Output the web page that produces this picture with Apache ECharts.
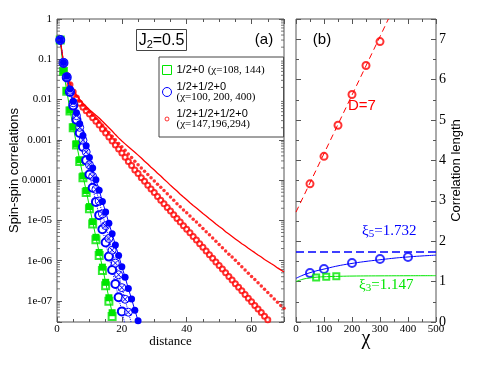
<!DOCTYPE html>
<html><head><meta charset="utf-8">
<script src="https://cdn.jsdelivr.net/npm/echarts@6/dist/echarts.min.js"></script>
<style>html,body{margin:0;padding:0;background:#fff}#c{width:491px;height:379px}</style>
</head><body><div id="c"></div>
<script>
// ---------- panel (a): correlations vs distance ----------
const distance = [1,2,3,4,5,6,7,8,9,10,11,12,13,14,15,16,17,18,19,20,21,22,23,24,25,26,27,28,29,30,
  31,32,33,34,35,36,37,38,39,40,41,42,43,44,45,46,47,48,49,50,51,52,53,54,55,56,57,58,59,60,
  61,62,63,64,65,66,67,68,69,70];
const greenChi108 = [3.0e-1,5.0e-2,1.60e-2,5.2e-3,2.0e-3,7.4e-4,2.9e-4,1.15e-4,4.9e-5,1.95e-5,8.1e-6,3.3e-6,1.35e-6,5.7e-7,2.4e-7,9.8e-8,4.1e-8];
const greenChi144 = [3.0e-1,5.1e-2,1.66e-2,5.5e-3,2.1e-3,7.9e-4,3.2e-4,1.27e-4,5.5e-5,2.2e-5,9.3e-6,3.8e-6,1.6e-6,6.9e-7,2.9e-7,1.2e-7,5.1e-8];
const blueChi100 = [3.02e-1,8.13e-2,3.55e-2,1.55e-2,7.08e-3,3.16e-3,1.48e-3,6.61e-4,3.09e-4,1.38e-4,6.46e-5,2.88e-5,1.35e-5,6.03e-6,2.82e-6,1.26e-6,5.89e-7,2.63e-7,1.23e-7,5.50e-8,2.57e-8];
const blueChi200 = [3.02e-1,8.32e-2,3.72e-2,1.70e-2,8.32e-3,3.98e-3,2.04e-3,9.77e-4,5.01e-4,2.40e-4,1.23e-4,5.89e-5,3.02e-5,1.45e-5,7.41e-6,3.55e-6,1.82e-6,8.71e-7,4.47e-7,2.14e-7,1.10e-7,5.25e-8,2.69e-8];
const blueChi400 = [3.02e-1,8.32e-2,3.80e-2,1.82e-2,9.12e-3,4.68e-3,2.51e-3,1.29e-3,7.08e-4,3.63e-4,2.00e-4,1.02e-4,5.62e-5,2.95e-5,1.62e-5,8.51e-6,4.68e-6,2.45e-6,1.35e-6,7.08e-7,3.89e-7,2.04e-7,1.12e-7,5.89e-8,3.24e-8];
const redChi147 = [3.02e-1,8.32e-2,3.98e-2,2.34e-2,1.55e-2,1.10e-2,8.13e-3,6.46e-3,5.25e-3,4.37e-3,
  3.55e-3,2.88e-3,2.34e-3,1.86e-3,1.48e-3,1.17e-3,9.33e-4,7.41e-4,5.89e-4,4.68e-4,
  3.72e-4,2.88e-4,2.29e-4,1.78e-4,1.45e-4,1.15e-4,9.33e-5,7.41e-5,6.03e-5,4.90e-5,
  3.89e-5,3.16e-5,2.57e-5,2.09e-5,1.70e-5,1.38e-5,1.12e-5,9.12e-6,7.41e-6,6.03e-6,
  4.90e-6,3.98e-6,3.24e-6,2.63e-6,2.14e-6,1.74e-6,1.41e-6,1.15e-6,9.33e-7,7.59e-7,
  6.17e-7,5.01e-7,4.07e-7,3.31e-7,2.69e-7,2.19e-7,1.78e-7,1.45e-7,1.17e-7,9.55e-8,
  7.76e-8,6.31e-8,5.13e-8,4.17e-8,3.39e-8];
const redChi196 = [3.02e-1,8.51e-2,4.07e-2,2.45e-2,1.66e-2,1.20e-2,9.12e-3,7.24e-3,5.89e-3,4.90e-3,
  4.07e-3,3.39e-3,2.82e-3,2.29e-3,1.86e-3,1.51e-3,1.23e-3,1.00e-3,8.13e-4,6.76e-4,
  5.50e-4,4.47e-4,3.63e-4,2.95e-4,2.40e-4,2.00e-4,1.66e-4,1.38e-4,1.15e-4,9.55e-5,
  7.94e-5,6.61e-5,5.50e-5,4.57e-5,3.80e-5,3.16e-5,2.57e-5,2.19e-5,1.82e-5,1.55e-5,
  1.29e-5,1.07e-5,9.12e-6,7.59e-6,6.31e-6,5.25e-6,4.37e-6,3.63e-6,3.02e-6,2.51e-6,
  2.09e-6,1.74e-6,1.45e-6,1.23e-6,1.02e-6,8.51e-7,7.08e-7,5.89e-7,4.90e-7,4.07e-7,
  3.39e-7,2.82e-7,2.34e-7,1.95e-7,1.62e-7,1.35e-7,1.12e-7,9.33e-8,7.76e-8,6.61e-8];
const redChi294 = [3.02e-1,8.51e-2,4.17e-2,2.51e-2,1.74e-2,1.29e-2,1.00e-2,8.13e-3,6.76e-3,5.62e-3,
  4.79e-3,4.07e-3,3.47e-3,2.88e-3,2.40e-3,2.00e-3,1.66e-3,1.35e-3,1.12e-3,9.33e-4,
  7.94e-4,6.76e-4,5.75e-4,4.90e-4,4.17e-4,3.55e-4,2.95e-4,2.51e-4,2.09e-4,1.78e-4,
  1.48e-4,1.26e-4,1.05e-4,8.91e-5,7.41e-5,6.31e-5,5.37e-5,4.47e-5,3.80e-5,3.24e-5,
  2.75e-5,2.34e-5,2.04e-5,1.74e-5,1.48e-5,1.29e-5,1.10e-5,9.55e-6,8.13e-6,7.08e-6,
  6.17e-6,5.25e-6,4.57e-6,3.98e-6,3.47e-6,3.02e-6,2.63e-6,2.34e-6,2.04e-6,1.78e-6,
  1.58e-6,1.38e-6,1.23e-6,1.07e-6,9.55e-7,8.51e-7,7.59e-7,6.61e-7,5.89e-7,5.25e-7];
const logTickLabels = {'0':'1','-1':'0.1','-2':'0.01','-3':'0.001','-4':'0.0001','-5':'1e-05','-6':'1e-06','-7':'1e-07'};
const logMinorMult = [2,3,4,5,6,7,8,9];
const logDecades = [1e-8,1e-7,1e-6,1e-5,1e-4,1e-3,1e-2,1e-1];
const distRange = [0,70];

// ---------- panel (b): correlation length vs chi ----------
const chiRed = [50,100,150,200,250,300];
const xiRed = [3.42,4.10,4.87,5.63,6.35,6.94];
const chiRedFit = [0,330];
const xiRedFit = [2.72,7.5];
const chiBlue = [50,100,200,300,400];
const xiBlue = [1.21,1.31,1.46,1.56,1.61];
const chiBlueFit = [0,25,50,75,100,150,200,250,300,350,400,450,500];
const xiBlueFit = [1.08,1.16,1.22,1.27,1.31,1.39,1.45,1.50,1.54,1.58,1.61,1.635,1.655];
const chiGreen = [72,108,144];
const xiGreen = [1.10,1.12,1.13];
const chiGreenFit = [0,25,50,75,100,150,200,300,400,500];
const xiGreenFit = [1.0,1.06,1.09,1.11,1.12,1.13,1.137,1.142,1.145,1.147];
const xi5 = 1.732, xi3 = 1.147;
const chiRange = [0,500];

const RED='#ff0000', GREEN='#00e600', BLUE='#0000ff', AX='#555';
const SERIF='Liberation Serif', SANS='Liberation Sans';
const pair = (xs, ys) => ys.map((v,i)=>[xs[i], v]);

function ax(o) {
  return Object.assign({
    type:'value', axisLine:{show:false,onZero:false}, splitLine:{show:false},
    axisLabel:{show:false}, nameMoveOverlap:false,
    axisTick:{show:true,inside:true,length:o.len||5,lineStyle:{color:AX,width:1}}
  }, o);
}
const lblA = {show:true,fontFamily:SERIF,fontSize:11,color:'#000',margin:2};

const chart = echarts.init(document.getElementById('c'), null, {renderer:'canvas'});
const crossCircle = 'path://M0,5A5,5 0 1,1 10,5A5,5 0 1,1 0,5Z M1.6,1.6L8.4,8.4M8.4,1.6L1.6,8.4';
const smallCircleIcon = 'path://M0,0M10,10M2.8,5A2.2,2.2 0 1,1 7.2,5A2.2,2.2 0 1,1 2.8,5Z';
const minorVals = logDecades.flatMap(d=>logMinorMult.map(m=>m*d)).filter(v=>v>3e-8);

const option = {
  animation:false,
  backgroundColor:'#fff',
  grid:[
    {left:57,top:19,width:227,height:303,show:true,borderColor:AX,borderWidth:1,backgroundColor:'transparent',outerBoundsMode:'none',containLabel:false},
    {left:296,top:19,width:140,height:303,show:true,borderColor:AX,borderWidth:1,backgroundColor:'transparent',outerBoundsMode:'none',containLabel:false}
  ],
  xAxis:[
    ax({gridIndex:0,position:'bottom',min:0,max:70,interval:20,len:5,
      axisLabel:Object.assign({},lblA,{formatter:v=>(v%20===0?String(v):'')}),
      name:'distance',nameLocation:'middle',nameGap:13,
      nameTextStyle:{fontFamily:SERIF,fontSize:13,color:'#000'}}),
    ax({gridIndex:0,position:'bottom',min:0,max:70,interval:5,len:3}),
    ax({gridIndex:0,position:'top',min:0,max:70,interval:20,len:5}),
    ax({gridIndex:0,position:'top',min:0,max:70,interval:5,len:3}),
    ax({gridIndex:1,position:'bottom',min:0,max:500,interval:100,len:5,
      axisLabel:Object.assign({},lblA),
      name:'χ',nameLocation:'middle',nameGap:7,
      nameTextStyle:{fontFamily:SERIF,fontSize:20,color:'#000'}}),
    ax({gridIndex:1,position:'bottom',min:0,max:500,interval:50,len:3}),
    ax({gridIndex:1,position:'top',min:0,max:500,interval:100,len:5}),
    ax({gridIndex:1,position:'top',min:0,max:500,interval:50,len:3})
  ],
  yAxis:[
    ax({gridIndex:0,type:'log',position:'left',min:3e-8,max:1,len:5,
      axisLabel:{show:true,fontFamily:SERIF,fontSize:11,color:'#000',margin:5,
        formatter:v=>{const l=Math.log10(v);const r=Math.round(l);return Math.abs(l-r)<0.01&&logTickLabels[String(r)]?logTickLabels[String(r)]:'';}},
      name:'Spin-spin correlations',nameLocation:'middle',nameGap:36,nameRotate:90,
      nameTextStyle:{fontFamily:SANS,fontSize:13,color:'#000'}}),
    ax({gridIndex:0,type:'log',position:'right',min:3e-8,max:1,len:5}),
    ax({gridIndex:1,position:'right',min:0,max:7.5,interval:1,len:5,
      axisLabel:{show:true,fontFamily:SERIF,fontSize:14,color:'#000',margin:3,
        formatter:v=>(Number.isInteger(v)?String(v):'')},
      name:'Correlation length',nameLocation:'middle',nameGap:14,nameRotate:90,
      nameTextStyle:{fontFamily:SANS,fontSize:13,color:'#000'}}),
    ax({gridIndex:1,position:'right',min:0,max:7.5,interval:0.5,len:3}),
    ax({gridIndex:1,position:'left',min:0,max:7.5,interval:1,len:5}),
    ax({gridIndex:1,position:'left',min:0,max:7.5,interval:0.5,len:3})
  ],
  legend:{
    left:159,top:57,orient:'vertical',selectedMode:false,
    backgroundColor:'#fff',borderColor:'#444',borderWidth:1,
    padding:[7,19,7,3],itemGap:5,itemWidth:9,itemHeight:9,
    data:[
      {name:'G',icon:'rect',itemStyle:{color:'#fff',borderColor:GREEN,borderWidth:1}},
      {name:'B',icon:'circle',itemStyle:{color:'#fff',borderColor:BLUE,borderWidth:1}},
      {name:'R',icon:smallCircleIcon,itemStyle:{color:'rgba(0,0,0,0)',borderColor:RED,borderWidth:1}}
    ],
    formatter:n=>({
      G:'{s|1/2+0} {t|(χ=108, 144)}',
      B:'{s|1/2+1/2+0}\n{t|(χ=100, 200, 400)}',
      R:'{s|1/2+1/2+1/2+0}\n{t|(χ=147,196,294)}'
    })[n],
    textStyle:{color:'#000',rich:{
      s:{fontFamily:SANS,fontSize:11,lineHeight:11,color:'#000'},
      t:{fontFamily:SERIF,fontSize:11,lineHeight:11,color:'#000'}
    }}
  },
  graphic:[
    {type:'group',left:136,top:29,children:[
      {type:'rect',shape:{x:0.5,y:0.5,width:50,height:21},style:{fill:'#fff',stroke:'#444',lineWidth:1}},
      {type:'text',x:25.5,y:11.5,style:{text:'{a|J}{s|2}{a|=0.5}',align:'center',verticalAlign:'middle',textAlign:'center',textVerticalAlign:'middle',
        rich:{a:{fontFamily:SANS,fontSize:16,lineHeight:20,fill:'#000',color:'#000'},s:{fontFamily:SANS,fontSize:11,lineHeight:11,verticalAlign:'bottom',fill:'#000',color:'#000'}}}}
    ]},
    {type:'text',x:264,y:40,style:{text:'(a)',font:'15px '+SANS,fill:'#000',align:'center',verticalAlign:'middle',textAlign:'center',textVerticalAlign:'middle'}},
    {type:'text',x:322,y:40,style:{text:'(b)',font:'15px '+SANS,fill:'#000',align:'center',verticalAlign:'middle',textAlign:'center',textVerticalAlign:'middle'}},
    {type:'text',x:348,y:106,style:{text:'D=7',font:'15px '+SANS,fill:RED,align:'left',verticalAlign:'middle',textAlign:'left',textVerticalAlign:'middle'}},
    {type:'text',x:362,y:231,style:{text:'{a|ξ}{s|5}{a|=1.732}',align:'left',verticalAlign:'middle',textAlign:'left',textVerticalAlign:'middle',
      rich:{a:{fontFamily:SERIF,fontSize:15,lineHeight:18,fill:BLUE,color:BLUE},s:{fontFamily:SERIF,fontSize:11,lineHeight:11,verticalAlign:'bottom',fill:BLUE,color:BLUE}}}},
    {type:'text',x:359,y:285,style:{text:'{a|ξ}{s|3}{a|=1.147}',align:'left',verticalAlign:'middle',textAlign:'left',textVerticalAlign:'middle',
      rich:{a:{fontFamily:SERIF,fontSize:15,lineHeight:18,fill:GREEN,color:GREEN},s:{fontFamily:SERIF,fontSize:11,lineHeight:11,verticalAlign:'bottom',fill:GREEN,color:GREEN}}}}
  ],
  series:[
    // panel (a)
    {name:'G2',type:'scatter',xAxisIndex:0,yAxisIndex:0,data:pair(distance,greenChi108),symbol:'emptyRect',symbolSize:7,itemStyle:{color:GREEN,borderWidth:1}},
    {name:'G',type:'line',xAxisIndex:0,yAxisIndex:0,data:pair(distance,greenChi144),symbol:'rect',symbolSize:7,showSymbol:true,itemStyle:{color:GREEN},lineStyle:{color:GREEN,width:1}},
    {name:'B',type:'line',xAxisIndex:0,yAxisIndex:0,data:pair(distance,blueChi100),symbol:'emptyCircle',symbolSize:8,itemStyle:{color:BLUE,borderWidth:1},lineStyle:{color:BLUE,width:1,type:'dotted'}},
    {name:'B2',type:'line',xAxisIndex:0,yAxisIndex:0,data:pair(distance,blueChi200),symbol:crossCircle,symbolSize:8,itemStyle:{color:'rgba(255,255,255,0.6)',borderColor:BLUE,borderWidth:1},lineStyle:{color:BLUE,width:1,type:'dotted'}},
    {name:'B3',type:'line',xAxisIndex:0,yAxisIndex:0,data:pair(distance,blueChi400),symbol:'circle',symbolSize:7,itemStyle:{color:BLUE},lineStyle:{color:BLUE,width:1}},
    {name:'R',type:'scatter',xAxisIndex:0,yAxisIndex:0,data:pair(distance,redChi147),symbol:'emptyCircle',symbolSize:5,itemStyle:{color:RED,borderWidth:1}},
    {name:'R2',type:'scatter',xAxisIndex:0,yAxisIndex:0,data:pair(distance,redChi196),symbol:'circle',symbolSize:3.5,itemStyle:{color:RED}},
    {name:'R3',type:'line',xAxisIndex:0,yAxisIndex:0,data:pair(distance,redChi294),showSymbol:false,symbol:'none',lineStyle:{color:RED,width:1.3}},
    // log minor ticks for panel (a), placed by the log scale at both frame edges
    {name:'minorL',type:'scatter',xAxisIndex:0,yAxisIndex:0,silent:true,z:5,clip:false,
      data:minorVals.map(v=>[distRange[0],v]),symbol:'rect',symbolSize:[3,1],symbolOffset:[1.5,0],itemStyle:{color:AX}},
    {name:'minorR',type:'scatter',xAxisIndex:0,yAxisIndex:0,silent:true,z:5,clip:false,
      data:minorVals.map(v=>[distRange[1],v]),symbol:'rect',symbolSize:[3,1],symbolOffset:[-1.5,0],itemStyle:{color:AX}},
    // panel (b)
    {name:'redFit',type:'line',xAxisIndex:4,yAxisIndex:2,data:pair(chiRedFit,xiRedFit),showSymbol:false,symbol:'none',lineStyle:{color:RED,width:1,type:[6,4]}},
    {name:'redXi',type:'scatter',xAxisIndex:4,yAxisIndex:2,data:pair(chiRed,xiRed),symbol:'emptyCircle',symbolSize:7,itemStyle:{color:RED,borderWidth:1}},
    {name:'xi5',type:'line',xAxisIndex:4,yAxisIndex:2,data:pair(chiRange,[xi5,xi5]),showSymbol:false,symbol:'none',lineStyle:{color:BLUE,width:1.5,type:[8,4]}},
    {name:'blueFit',type:'line',xAxisIndex:4,yAxisIndex:2,data:pair(chiBlueFit,xiBlueFit),smooth:true,showSymbol:false,symbol:'none',lineStyle:{color:BLUE,width:1}},
    {name:'blueXi',type:'scatter',xAxisIndex:4,yAxisIndex:2,data:pair(chiBlue,xiBlue),symbol:'emptyCircle',symbolSize:8,itemStyle:{color:BLUE,borderWidth:1}},
    {name:'greenFit',type:'line',xAxisIndex:4,yAxisIndex:2,data:pair(chiGreenFit,xiGreenFit),smooth:true,showSymbol:false,symbol:'none',lineStyle:{color:GREEN,width:1}},
    {name:'greenXi',type:'scatter',xAxisIndex:4,yAxisIndex:2,data:pair(chiGreen,xiGreen),symbol:'emptyRect',symbolSize:6,itemStyle:{color:GREEN,borderWidth:1}}
  ]
};
chart.setOption(option);
</script></body></html>
